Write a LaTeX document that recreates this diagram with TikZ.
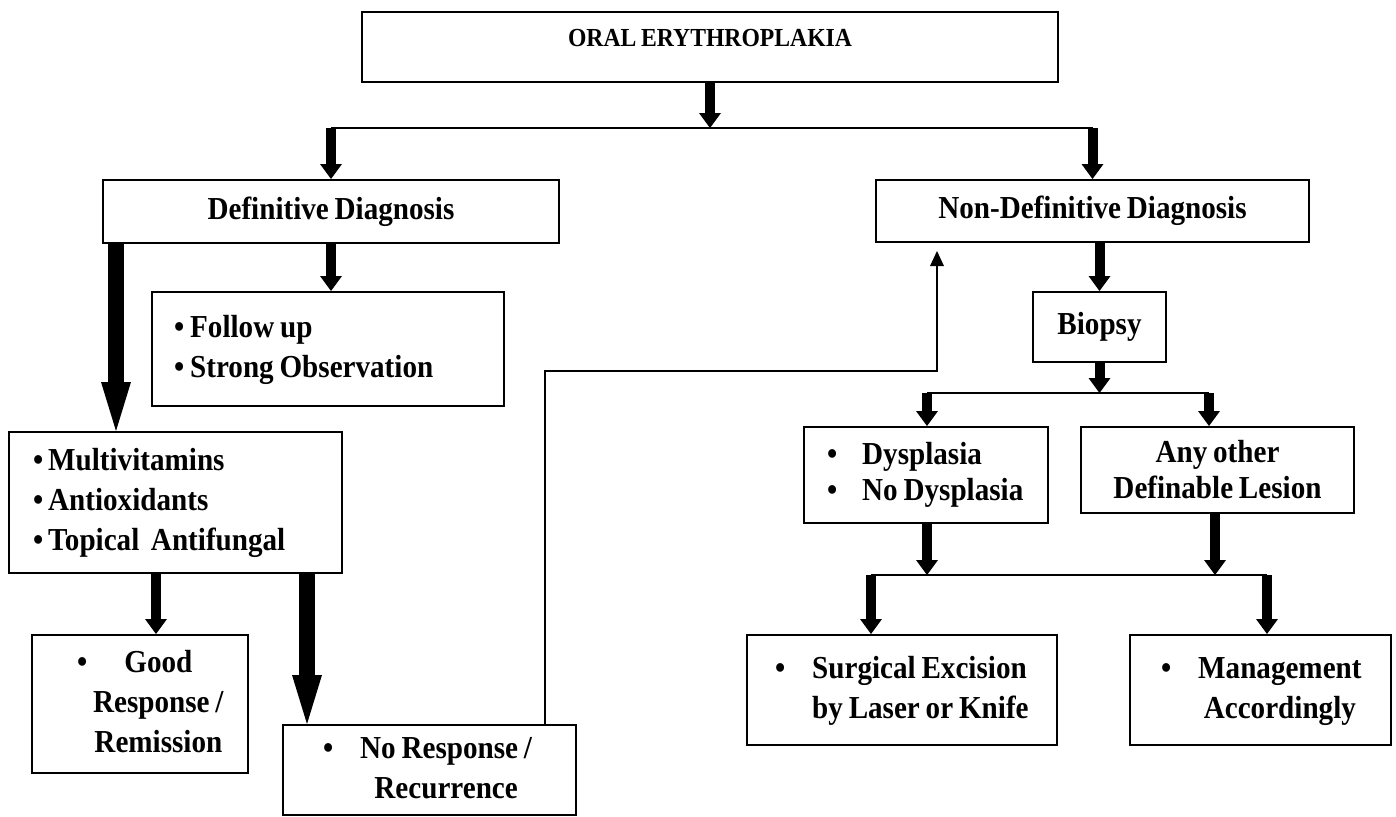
\documentclass[tikz,border=0pt]{standalone}
\usepackage{fontspec}
\setmainfont[FakeStretch=0.91,WordSpace=0.8]{Liberation Serif}
\usetikzlibrary{arrows.meta,positioning}
\setlength{\parindent}{0pt}

\tikzset{
  box/.style={draw, line width=2pt, inner ysep=0pt, font=\bfseries\fontsize{32}{40}\selectfont},
  arr/.style={line width=10pt, -{Triangle[width=22pt,length=15pt,line width=0pt]}},
  bigarr/.style={line width=16pt, -{Triangle[width=30pt,length=49pt,line width=0pt]}},
  link/.style={line width=2.5pt},
  back/.style={line width=2.2pt, -{Triangle[width=14pt,length=15pt,line width=0pt]}},
}

\begin{document}
\begin{tikzpicture}[x=1pt, y=-1pt]
    \useasboundingbox (0,0) rectangle (1396,816);

    % boxes
    \node[box, minimum width=696pt, minimum height=70pt, text height=0pt, text depth=0pt,
          font=\bfseries\fontsize{26}{30}\selectfont] (oral) at (710,47) {ORAL ERYTHROPLAKIA};
    \node[box, minimum width=456pt, minimum height=63pt] (defdx) at (331,211.5) {Definitive Diagnosis};
    \node[box, minimum width=433pt, minimum height=62pt] (nondx) at (1092.5,211) {Non-Definitive Diagnosis};
    \node[box, minimum width=352pt, minimum height=114pt, text width=308pt, inner xsep=22pt, align=flush left]
        (follow) at (328,349)
        {\begin{tabular}{@{}l@{}}\textbullet\hspace{6pt}Follow up\\ \textbullet\hspace{6pt}Strong Observation\end{tabular}};
    \node[box, minimum width=333pt, minimum height=141pt, text width=285pt, inner xsep=24pt, align=flush left]
        (multi) at (175.5,502.5)
        {\begin{tabular}{@{}l@{}}\textbullet\hspace{5pt}Multivitamins\\ \textbullet\hspace{5pt}Antioxidants\\ \textbullet\hspace{5pt}Topical~~Antifungal\end{tabular}};
    \node[box, minimum width=216pt, minimum height=138pt, text width=126pt, inner xsep=45pt, align=flush left]
        (good) at (140,704)
        {\begin{tabular}{@{}l@{\hspace{6pt}}c@{}}\textbullet & Good\\ & Response /\\ & Remission\end{tabular}};
    \node[box, minimum width=293pt, minimum height=90pt, text width=213pt, inner xsep=40pt, align=flush left]
        (noresp) at (429.5,770)
        {\begin{tabular}{@{}l@{\hspace{27pt}}c@{}}\textbullet & No Response /\\ & Recurrence\end{tabular}};
    \node[box, minimum width=133pt, minimum height=70pt] (biopsy) at (1099.5,327) {Biopsy};
    \node[box, minimum width=244pt, minimum height=96pt, text width=198pt, inner xsep=23pt, align=flush left,
          font=\bfseries\fontsize{32}{36}\selectfont] (dysp) at (926,475)
        {\begin{tabular}{@{}l@{\hspace{25pt}}l@{}}\textbullet & Dysplasia\\ \textbullet & No Dysplasia\end{tabular}};
    \node[box, minimum width=273pt, minimum height=86pt, align=center,
          font=\bfseries\fontsize{32}{36}\selectfont] (other) at (1217.5,470)
        {Any other\\ Definable Lesion};
    \node[box, minimum width=310pt, minimum height=110pt, text width=254pt, inner xsep=28pt, align=flush left]
        (surg) at (902,690)
        {\begin{tabular}{@{}l@{\hspace{27pt}}l@{}}\textbullet & Surgical Excision\\ & by Laser or Knife\end{tabular}};
    \node[box, minimum width=261pt, minimum height=110pt, text width=199pt, inner xsep=31pt, align=flush left]
        (manage) at (1260.5,690)
        {\begin{tabular}{@{}l@{\hspace{27pt}}c@{}}\textbullet & Management\\ & Accordingly\end{tabular}};

    % top split
    \coordinate (t0) at (710,128);
    \coordinate (tL) at (331,128);
    \coordinate (tR) at (1092.5,128);
    \draw[arr] (oral.south) -- (t0);
    \draw[link] (tL) -- (tR);
    \draw[arr] (tL) -- (tL |- defdx.north);
    \draw[arr] (tR) -- (tR |- nondx.north);

    % definitive side
    \coordinate (m0) at ([xshift=14pt]defdx.south west);
    \coordinate (g0) at ([xshift=-19.5pt]multi.south);
    \coordinate (r0) at ([xshift=131.5pt]multi.south);
    \draw[arr] (defdx.south) -- (defdx.south |- follow.north);
    \draw[bigarr] (m0) -- (m0 |- multi.north);
    \draw[arr] (g0) -- (g0 |- good.north);
    \draw[bigarr] (r0) -- (r0 |- noresp.north);

    % back to non-definitive
    \coordinate (u0) at ([xshift=115.5pt]noresp.north);
    \coordinate (u1) at ([xshift=-155.5pt,yshift=-8pt]nondx.south);
    \draw[back] (u0) -- ++(0,-353) -| (u1);

    % non-definitive side
    \coordinate (bL) at (927,393);
    \coordinate (bR) at (1209,393);
    \draw[arr] (nondx.south -| biopsy.north) -- (biopsy.north);
    \draw[arr] (biopsy.south) -- (biopsy.south |- bL);
    \draw[link] (bL) -- (bR);
    \draw[arr] (bL) -- (bL |- dysp.north);
    \draw[arr] (bR) -- (bR |- other.north);

    \coordinate (sL) at (871,575);
    \coordinate (sR) at (1267,575);
    \coordinate (s2) at (1215,575);
    \draw[arr] (bL |- dysp.south) -- (bL |- sL);
    \draw[arr] (s2 |- other.south) -- (s2);
    \draw[link] (sL) -- (sR);
    \draw[arr] (sL) -- (sL |- surg.north);
    \draw[arr] (sR) -- (sR |- manage.north);
\end{tikzpicture}
\end{document}
